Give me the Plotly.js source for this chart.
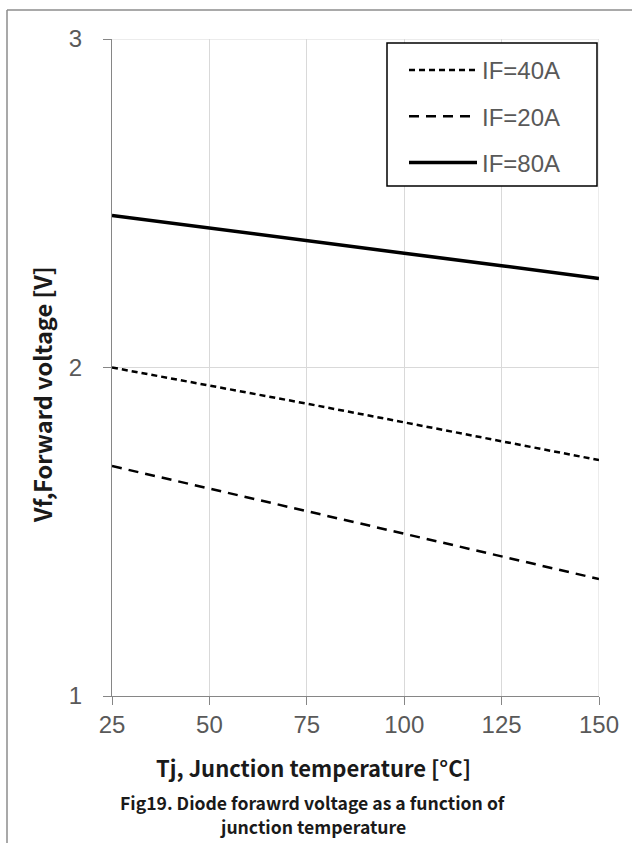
<!DOCTYPE html>
<html>
<head>
<meta charset="utf-8">
<script src="https://cdn.plot.ly/plotly-3.0.1.min.js"></script>
<style>
  html, body { margin: 0; padding: 0; background: #ffffff; }
  #chart { width: 632px; height: 843px; }
</style>
</head>
<body>
<div id="chart"></div>
<script>
// ---- data ----
const tj = [25, 50, 75, 100, 125, 150];
const vf40 = [2.00, 1.946, 1.890, 1.833, 1.776, 1.718];
const vf20 = [1.70, 1.632, 1.563, 1.494, 1.425, 1.356];
const vf80 = [2.463, 2.424, 2.386, 2.348, 2.310, 2.271];
const seriesNames = ["IF=40A", "IF=20A", "IF=80A"];
const xTicks = [25, 50, 75, 100, 125, 150];
const yTicks = [1, 2, 3];
const captionLines = ["Fig19. Diode forawrd voltage as a function of", "junction temperature"];

// ---- layout geometry ----
const W = 632, H = 843;
const L = 112, R = 33, T = 39, B = 147;
const pw = W - L - R, ph = H - T - B;
const px = p => (p - L) / pw;           // pixel x -> paper x
const py = p => (H - B - p) / ph;       // pixel y -> paper y

const tickFont = { family: "Liberation Sans, Arial, sans-serif", size: 24, color: "#595959" };
const titleFontX = { family: "Noto Sans CJK SC, Noto Sans, sans-serif", size: 22, color: "#1a1a1a", weight: 700 };
const titleFontY = { family: "Noto Sans CJK SC, Noto Sans, sans-serif", size: 23.5, color: "#1a1a1a", weight: 700 };
const captionFont = { family: "Noto Sans CJK SC, Noto Sans, sans-serif", size: 17.6, color: "#1a1a1a", weight: 700 };

const traces = [
  { x: tj, y: vf40, name: seriesNames[0], legendgroup: "a",
    mode: "lines", line: { color: "#000000", width: 2.5, dash: "6px,4px" } },
  { x: tj, y: vf20, name: seriesNames[1], legendgroup: "b",
    mode: "lines", line: { color: "#000000", width: 2.5, dash: "10px,7px" } },
  { x: tj, y: vf80, name: seriesNames[2], legendgroup: "c",
    mode: "lines", line: { color: "#000000", width: 3.5 } }
];

const gridColor = "#d9d9d9";

const layout = {
  width: W, height: H,
  margin: { l: L, r: R, t: T, b: B, pad: 0 },
  paper_bgcolor: "#ffffff", plot_bgcolor: "#ffffff",
  showlegend: true,
  legend: {
    x: px(404), y: py(48), xanchor: "left", yanchor: "top",
    bgcolor: "rgba(0,0,0,0)", borderwidth: 0,
    font: { family: "Liberation Sans, Arial, sans-serif", size: 24, color: "#595959" },
    itemwidth: 68, tracegroupgap: 12, traceorder: "grouped",
    itemclick: false, itemdoubleclick: false
  },
  xaxis: {
    range: [25, 150], tickvals: xTicks, ticktext: xTicks.map(String),
    showgrid: true, gridcolor: gridColor, gridwidth: 1,
    showline: true, linecolor: "#868686", linewidth: 1,
    ticks: "outside", ticklen: 8, tickcolor: "#868686",
    tickfont: tickFont, ticklabelstandoff: -1,
    zeroline: false, fixedrange: true
  },
  yaxis: {
    range: [1, 3], tickvals: yTicks, ticktext: yTicks.map(String),
    showgrid: true, gridcolor: gridColor, gridwidth: 1,
    showline: true, linecolor: "#868686", linewidth: 1,
    ticks: "outside", ticklen: 8, tickcolor: "#868686",
    tickfont: tickFont, ticklabelstandoff: 16,
    zeroline: false, fixedrange: true
  },
  shapes: [
    // gridlines on the plot edges (top value and right value)
    { type: "line", xref: "paper", yref: "y", x0: 0, x1: 1, y0: yTicks[yTicks.length - 1], y1: yTicks[yTicks.length - 1],
      line: { color: gridColor, width: 1 }, layer: "below" },
    { type: "line", xref: "x", yref: "paper", x0: xTicks[xTicks.length - 1], x1: xTicks[xTicks.length - 1], y0: 0, y1: 1,
      line: { color: gridColor, width: 1 }, layer: "below" },
    // legend box
    { type: "rect", xref: "paper", yref: "paper", x0: px(387), x1: px(597), y0: py(43), y1: py(186),
      line: { color: "#000000", width: 1.5 }, fillcolor: "#ffffff", layer: "above" },
    // outer chart-area frame (left and top edges)
    { type: "line", xref: "paper", yref: "paper", x0: px(7), x1: px(7), y0: py(10), y1: py(843),
      line: { color: "#8c8c8c", width: 1.5 } },
    { type: "line", xref: "paper", yref: "paper", x0: px(7), x1: px(632), y0: py(10), y1: py(10),
      line: { color: "#8c8c8c", width: 1.5 } }
  ],
  annotations: [
    { text: "Vf,Forward voltage [V]", xref: "paper", yref: "paper",
      x: px(42), y: py(395), xanchor: "center", yanchor: "middle",
      textangle: -90, showarrow: false, font: titleFontY },
    { text: "Tj, Junction temperature [°C]", xref: "paper", yref: "paper",
      x: px(313), y: py(767), xanchor: "center", yanchor: "middle",
      showarrow: false, font: titleFontX },
    { text: captionLines[0], xref: "paper", yref: "paper",
      x: px(313), y: py(802), xanchor: "center", yanchor: "middle",
      showarrow: false, font: captionFont },
    { text: captionLines[1], xref: "paper", yref: "paper",
      x: px(313), y: py(826), xanchor: "center", yanchor: "middle",
      showarrow: false, font: captionFont }
  ]
};

Plotly.newPlot("chart", traces, layout, { displayModeBar: false });
</script>
</body>
</html>
